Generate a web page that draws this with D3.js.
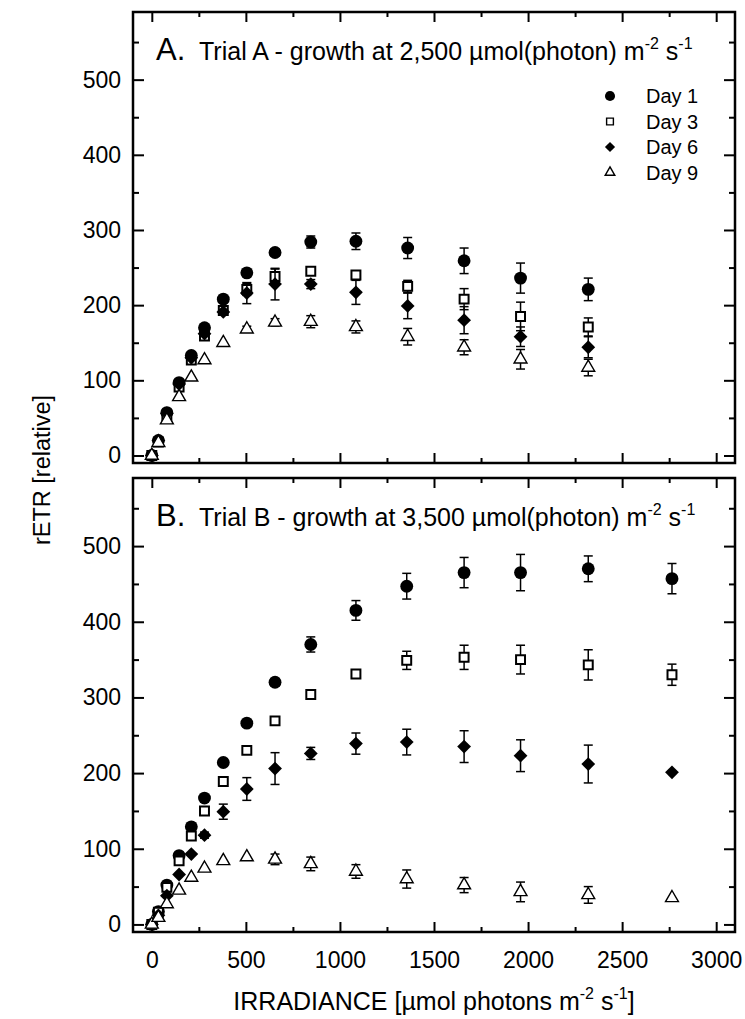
<!DOCTYPE html>
<html>
<head>
<meta charset="utf-8">
<script src="https://cdn.jsdelivr.net/npm/d3@7"></script>
<style>
  body { margin: 0; background: #fff; }
  svg { font-family: 'Liberation Sans', Arial, sans-serif; }
</style>
</head>
<body>
<svg id="chart" width="745" height="1019"></svg>
<script>
// irradiance steps of the light curves
const irrA = [0, 35, 80, 145, 210, 280, 380, 505, 655, 845, 1085, 1360, 1660, 1960, 2320]
const irrB = [0, 35, 80, 145, 210, 280, 380, 505, 655, 845, 1085, 1355, 1660, 1960, 2320, 2765]

// Trial A - rETR and error
const aDay1 = [0, 20, 57, 97, 133, 170, 208, 243, 270, 284, 285, 276, 259, 236, 221]
const aDay1Err = [0, 0, 0, 0, 0, 0, 4, 4, 5, 8, 11, 14, 17, 20, 15]
const aDay3 = [0, 18, 51, 91, 127, 159, 193, 221, 238, 245, 240, 225, 208, 185, 171]
const aDay3Err = [0, 0, 0, 0, 0, 0, 0, 8, 10, 5, 4, 8, 14, 19, 12]
const aDay6 = [0, 20, 56, 95, 130, 162, 191, 216, 228, 228, 217, 199, 180, 158, 144]
const aDay6Err = [0, 0, 0, 0, 0, 0, 0, 14, 21, 6, 16, 17, 18, 13, 14]
const aDay9 = [0, 17, 47, 78, 104, 127, 150, 168, 177, 178, 171, 158, 144, 128, 117]
const aDay9Err = [0, 0, 0, 0, 0, 0, 0, 4, 5, 8, 8, 11, 10, 13, 11]

// Trial B - rETR and error
const bDay1 = [0, 17, 52, 91, 129, 167, 214, 266, 320, 370, 415, 447, 465, 465, 470, 457]
const bDay1Err = [0, 0, 0, 0, 0, 0, 0, 0, 5, 10, 13, 17, 20, 24, 17, 20]
const bDay3 = [0, 16, 49, 84, 117, 150, 189, 230, 269, 304, 331, 349, 353, 350, 343, 330]
const bDay3Err = [0, 0, 0, 0, 0, 0, 0, 0, 0, 4, 5, 12, 16, 19, 20, 14]
const bDay6 = [0, 12, 38, 66, 93, 118, 149, 179, 206, 226, 239, 241, 235, 223, 212, 201]
const bDay6Err = [0, 0, 0, 0, 0, 4, 10, 15, 21, 8, 14, 17, 21, 21, 25, 0]
const bDay9 = [0, 9, 27, 45, 62, 74, 84, 89, 86, 80, 70, 60, 52, 43, 39, 35]
const bDay9Err = [0, 0, 0, 0, 0, 0, 0, 0, 7, 9, 9, 12, 10, 13, 11, 0]

const dayLabels = ['Day 1', 'Day 3', 'Day 6', 'Day 9']
const xTicks = [0, 500, 1000, 1500, 2000, 2500, 3000]
const xMinor = [250, 750, 1250, 1750, 2250, 2750]
const yTicks = [0, 100, 200, 300, 400, 500]
const yMinor = [50, 150, 250, 350, 450, 550]

const svg = d3.select('#chart')
const left = 133
const right = 735
const x = d3.scaleLinear().domain([-100, 3100]).range([left, right])

// marker look per day (circle, open square, diamond, open triangle)
const markers = [
  { type: d3.symbolCircle, size: 130, legendSize: 80, fill: '#000', sw: 0, rot: 0 },
  { type: d3.symbolSquare, size: 80, legendSize: 46, fill: '#fff', sw: 2, rot: 0 },
  { type: d3.symbolSquare, size: 95, legendSize: 52, fill: '#000', sw: 0, rot: 45 },
  { type: d3.symbolTriangle, size: 72, legendSize: 40, fill: '#fff', sw: 1.4, rot: 0 },
]

function superText(sel, parts, big, small) {
  // parts: [text, isSuper]
  parts.forEach(([t, sup], i) => {
    const prev = i > 0 ? parts[i - 1][1] : false
    let dy = 0
    if (sup && !prev) dy = -11
    if (!sup && prev) dy = 11
    sel.append('tspan')
      .attr('dy', dy)
      .attr('font-size', sup ? small : big)
      .text(t)
  })
}

function drawPanel({ top, bottom, irr, series, errors, letter, titleParts, showXLabels, legend }) {
  const y = d3.scaleLinear().domain([-10, 590]).range([bottom, top])
  const g = svg.append('g')

  const styleAxis = (ax) => {
    ax.select('.domain').remove()
    ax.selectAll('line').attr('stroke', '#000').attr('stroke-width', 2)
    ax.selectAll('text').attr('fill', '#000').attr('font-size', 23).attr('font-family', null)
  }

  // bottom
  g.append('g').attr('transform', `translate(0,${bottom})`)
    .call(d3.axisBottom(x).tickValues(xTicks).tickSize(-10).tickPadding(20)
      .tickFormat(showXLabels ? d3.format('d') : ''))
    .call(styleAxis)
  g.append('g').attr('transform', `translate(0,${bottom})`)
    .call(d3.axisBottom(x).tickValues(xMinor).tickSize(-5).tickFormat(''))
    .call(styleAxis)
  // top
  g.append('g').attr('transform', `translate(0,${top})`)
    .call(d3.axisTop(x).tickValues(xTicks).tickSize(-10).tickFormat(''))
    .call(styleAxis)
  g.append('g').attr('transform', `translate(0,${top})`)
    .call(d3.axisTop(x).tickValues(xMinor).tickSize(-5).tickFormat(''))
    .call(styleAxis)
  // left
  g.append('g').attr('transform', `translate(${left},0)`)
    .call(d3.axisLeft(y).tickValues(yTicks).tickSize(-11).tickPadding(12).tickFormat(d3.format('d')))
    .call(styleAxis)
  g.append('g').attr('transform', `translate(${left},0)`)
    .call(d3.axisLeft(y).tickValues(yMinor).tickSize(-6).tickFormat(''))
    .call(styleAxis)
  // right
  g.append('g').attr('transform', `translate(${right},0)`)
    .call(d3.axisRight(y).tickValues(yTicks).tickSize(-11).tickFormat(''))
    .call(styleAxis)
  g.append('g').attr('transform', `translate(${right},0)`)
    .call(d3.axisRight(y).tickValues(yMinor).tickSize(-6).tickFormat(''))
    .call(styleAxis)

  g.append('rect')
    .attr('x', left).attr('y', top)
    .attr('width', right - left).attr('height', bottom - top)
    .attr('fill', 'none').attr('stroke', '#000').attr('stroke-width', 2.5)

  // title
  g.append('text').attr('x', 156).attr('y', top + 48)
    .attr('font-size', 31).attr('fill', '#000')
    .text(letter)
  const rest = g.append('text').attr('x', 199).attr('y', top + 48).attr('fill', '#000')
  superText(rest, titleParts, 25, 16)

  // data
  series.forEach((vals, si) => {
    const m = markers[si]
    const pts = irr.map((d, i) => ({ x: d, v: vals[i], e: errors[si][i] }))
    const eg = g.append('g').attr('stroke', '#000').attr('stroke-width', 1.5)
    pts.filter((p) => p.e > 0).forEach((p) => {
      const cx = x(p.x)
      eg.append('line').attr('x1', cx).attr('x2', cx).attr('y1', y(p.v - p.e)).attr('y2', y(p.v + p.e))
      eg.append('line').attr('x1', cx - 4.5).attr('x2', cx + 4.5).attr('y1', y(p.v - p.e)).attr('y2', y(p.v - p.e))
      eg.append('line').attr('x1', cx - 4.5).attr('x2', cx + 4.5).attr('y1', y(p.v + p.e)).attr('y2', y(p.v + p.e))
    })
    g.append('g')
      .selectAll('path')
      .data(pts)
      .enter()
      .append('path')
      .attr('d', d3.symbol().type(m.type).size(m.size))
      .attr('transform', (p) => `translate(${x(p.x)},${y(p.v)}) rotate(${m.rot})`)
      .attr('fill', m.fill)
      .attr('stroke', m.sw ? '#000' : 'none')
      .attr('stroke-width', m.sw)
  })

  if (legend) {
    dayLabels.forEach((lab, i) => {
      const m = markers[i]
      const ly = top + 84 + i * 25.5
      g.append('path')
        .attr('d', d3.symbol().type(m.type).size(m.legendSize))
        .attr('transform', `translate(610,${ly}) rotate(${m.rot})`)
        .attr('fill', m.fill)
        .attr('stroke', m.sw ? '#000' : 'none')
        .attr('stroke-width', m.sw ? 1.4 : 0)
      g.append('text')
        .attr('x', 646).attr('y', ly).attr('dy', '0.35em')
        .attr('font-size', 20).attr('fill', '#000')
        .text(lab)
    })
  }
}

drawPanel({
  top: 12,
  bottom: 463,
  irr: irrA,
  series: [aDay1, aDay3, aDay6, aDay9],
  errors: [aDay1Err, aDay3Err, aDay6Err, aDay9Err],
  letter: 'A.',
  titleParts: [['Trial A - growth at 2,500 \u00b5mol(photon) m', false], ['-2', true], [' s', false], ['-1', true]],
  showXLabels: false,
  legend: true,
})

drawPanel({
  top: 478,
  bottom: 932,
  irr: irrB,
  series: [bDay1, bDay3, bDay6, bDay9],
  errors: [bDay1Err, bDay3Err, bDay6Err, bDay9Err],
  letter: 'B.',
  titleParts: [['Trial B - growth at 3,500 \u00b5mol(photon) m', false], ['-2', true], [' s', false], ['-1', true]],
  showXLabels: true,
  legend: false,
})

// axis titles
svg.append('text')
  .attr('transform', 'translate(42,470) rotate(-90)')
  .attr('text-anchor', 'middle')
  .attr('dy', '0.35em')
  .attr('font-size', 23.5)
  .attr('fill', '#000')
  .text('rETR [relative]')

const xTitle = svg.append('text')
  .attr('x', 434)
  .attr('y', 1010)
  .attr('text-anchor', 'middle')
  .attr('fill', '#000')
superText(xTitle, [['IRRADIANCE [\u00b5mol photons m', false], ['-2', true], [' s', false], ['-1', true], [']', false]], 25, 16)
</script>
</body>
</html>
